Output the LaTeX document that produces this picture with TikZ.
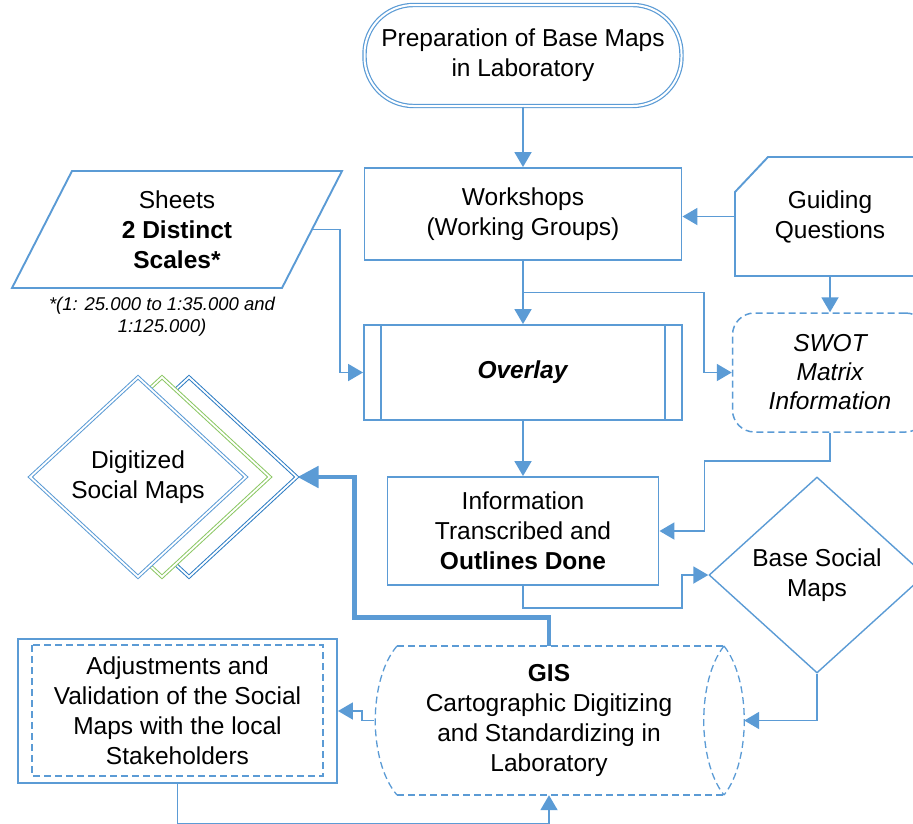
\documentclass[tikz,border=0pt]{standalone}
\usepackage{fontspec}
\setmainfont{Liberation Sans}
\usetikzlibrary{arrows.meta,shapes.geometric,calc}
\definecolor{mblue}{RGB}{91,155,213}
\definecolor{dblue}{RGB}{46,125,196}
\definecolor{mgreen}{RGB}{140,200,100}
\begin{document}
\begin{tikzpicture}[x=1pt,y=-1pt,
  every node/.style={font=\fontsize{24.5}{30}\selectfont, align=center, inner sep=0pt},
  ln/.style={draw=mblue, line width=1.9pt},
  dsh/.style={draw=mblue, line width=1.3pt, dash pattern=on 7pt off 4pt},
  box/.style={draw=mblue, line width=1.9pt, rectangle},
  stadium/.style={draw=mblue, line width=1.2pt, double=white, double distance=2pt, rounded corners=49pt, minimum width=317pt, minimum height=101pt},
  swotbox/.style={draw=mblue, line width=1.5pt, dash pattern=on 7pt off 4pt, rounded corners=22pt, minimum width=195pt, minimum height=119pt, font=\fontsize{24.5}{29}\selectfont\itshape},
  dmd/.style={diamond, fill=white, line width=1pt, double=white, double distance=1.8pt, minimum width=216pt, minimum height=200pt},
  arr/.style={draw=mblue, line width=1.9pt, -{Triangle[length=15pt,width=17pt]}},
  thickarr/.style={draw=mblue, line width=4.8pt, -{Triangle[length=21pt,width=21pt]}}
]
\useasboundingbox (0,0) rectangle (913,823);

% Start
\node[stadium] (start) at (523,55.5) {Preparation of Base Maps\\in Laboratory};
% Workshops
\node[box, minimum width=317pt, minimum height=92pt] (ws) at (523,214) {Workshops\\(Working Groups)};
% Guiding questions
\draw[ln] (735,276) -- (735,192) -- (768,157) -- (930,157) -- (930,276) -- cycle;
\node[minimum width=190pt, minimum height=119pt] (gq) at (830,216.5) {Guiding\\Questions};
% SWOT
\node[swotbox] (swot) at (830,372.5) {SWOT\\Matrix\\Information};
% Sheets
\draw[ln] (12,288) -- (72,171) -- (342,171) -- (282,288) -- cycle;
\node[minimum width=270pt, minimum height=117pt] (sheets) at (177,229.5) {Sheets\\\textbf{2 Distinct}\\\textbf{Scales*}};
\node[font=\fontsize{18.5}{22}\selectfont\itshape] (fn) at (162,317) {*(1: 25.000 to 1:35.000 and\\1:125.000)};
% Overlay
\node[box, minimum width=318pt, minimum height=95pt] (ov) at (523,372.5) {\textbf{\textit{Overlay}}};
\draw[ln] ([xshift=18pt]ov.north west) -- ([xshift=18pt]ov.south west);
\draw[ln] ([xshift=-18pt]ov.north east) -- ([xshift=-18pt]ov.south east);
% Information
\node[box, minimum width=271pt, minimum height=108pt] (info) at (523,531) {Information\\Transcribed and\\\textbf{Outlines Done}};
% Base social maps
\node[draw=mblue, line width=1.4pt, diamond, minimum width=216pt, minimum height=196pt] (bsm) at (817,575) {Base Social\\Maps};
% Digitized social maps
\node[dmd, draw=dblue] (dig3) at (189,477) {};
\node[dmd, draw=mgreen] (dig2) at (162,477) {};
\node[dmd, draw=mblue] (dig) at (138,477) {Digitized\\Social Maps};
% GIS
\node[minimum width=350pt, minimum height=149pt] (gis) at (549,720.5) {\textbf{GIS}\\Cartographic Digitizing\\and Standardizing in\\Laboratory};
\draw[dsh] (397,646) -- (724,646);
\draw[dsh] (397,795) -- (724,795);
\draw[dsh] (397,646) .. controls (368,680) and (368,761) .. (397,795);
\draw[dsh] (724,646) .. controls (751,680) and (751,761) .. (724,795);
\draw[dsh] (724,646) .. controls (697,680) and (697,761) .. (724,795);
% Adjustments
\node[box, minimum width=319pt, minimum height=144pt] (adj) at (177.5,711) {Adjustments and\\Validation of the Social\\Maps with the local\\Stakeholders};
\draw[dsh] ([shift={(15,7)}]adj.north west) rectangle ([shift={(-15,-8)}]adj.south east);

% Connectors
\draw[arr] (start.south) -- (ws.north);
\draw[arr] (gq.west) -- (gq.west -| ws.east);
\draw[arr] (gq.south) -- (swot.north);
\draw[arr] (ws.south) -- (ov.north);
\coordinate (br) at ($(ws.south)!0.5!(ov.north)$);
\draw[arr] (br) -| ($(swot.west)+(-28,0)$) -- (swot.west);
\draw[arr] (sheets.east) -- ++(28,0) |- (ov.west);
\draw[arr] (ov.south) -- (info.north);
\draw[arr] (swot.south) -- ++(0,28) -| ($(info.east)+(45,0)$) -- (info.east);
\draw[arr] (info.south) -- ++(0,22) -| ($(bsm.west)+(-26,0)$) -- (bsm.west);
\draw[arr] (bsm.south) |- ($(gis.east)+(20,0)$);
\draw[arr] (gis.west) -- ++(-12,0) |- (adj.east);
\draw[thickarr] (gis.north) -- ++(0,-28) -| ($(dig3.east)+(57,0)$) -- (dig3.east);
\coordinate (bl) at (177.5,823.5);
\coordinate (bm) at (549,823.5);
\draw[ln] (adj.south) -- (bl) -- (bm);
\draw[arr] (bm) -- (gis.south);
\end{tikzpicture}
\end{document}
